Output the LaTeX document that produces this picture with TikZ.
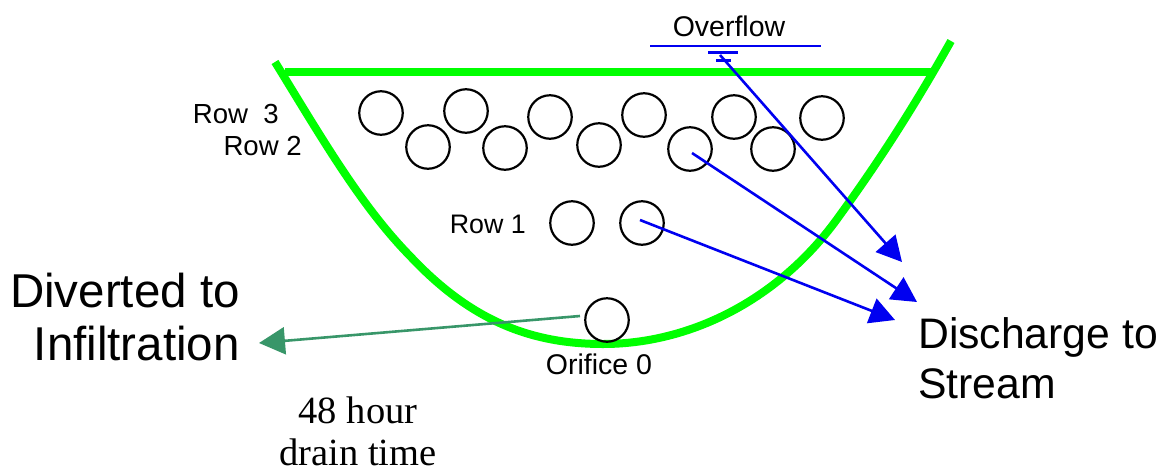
\documentclass[tikz,border=0pt]{standalone}
\usepackage{fontspec}
\setmainfont{Liberation Sans}
\newfontfamily\timesf{Liberation Serif}
\usetikzlibrary{arrows.meta}
\definecolor{basin}{RGB}{0,255,0}
\definecolor{divert}{RGB}{56,150,105}
\definecolor{flow}{RGB}{0,0,240}
\tikzset{
  x=1pt,y=-1pt,
  orifice/.style={circle,draw=black,line width=2.2pt,fill=none,minimum size=43.5pt,inner sep=0pt},
  basinline/.style={draw=basin,line width=8pt},
  discharge/.style={draw=flow,line width=2.6pt,-{Triangle[length=25pt,width=26pt,fill=flow]}},
  infil/.style={draw=divert,line width=2.6pt,-{Triangle[length=26pt,width=27pt,fill=divert]}},
  wl/.style={draw=flow,line width=2.2pt},
  small/.style={font=\fontsize{27.6}{30}\selectfont,inner sep=0pt},
  smaller/.style={font=\fontsize{26.8}{30}\selectfont,inner sep=0pt},
  ovl/.style={font=\fontsize{28.5}{32}\selectfont,inner sep=0pt},
  big/.style={font=\fontsize{47.5}{55}\selectfont,inner sep=0pt},
  mid/.style={font=\fontsize{42.7}{50}\selectfont,inner sep=0pt},
  serif/.style={font=\timesf\fontsize{38.5}{44}\selectfont,inner sep=0pt},
}
\begin{document}
\begin{tikzpicture}
\useasboundingbox (0,0) rectangle (1170,472);
% basin
\draw[basinline] (275,62) .. controls (320,135) and (360,205) .. (410,256)
  .. controls (470,320) and (530,344) .. (603,344)
  .. controls (690,344) and (780,300) .. (840,215)
  .. controls (880,160) and (915,105) .. (951,41);
\draw[basinline] (285,72) -- (931,72);
% orifices
\node[orifice] (a1) at (381,113) {};
\node[orifice] (a2) at (466,111) {};
\node[orifice] (a3) at (550,117) {};
\node[orifice] (a4) at (644,115) {};
\node[orifice] (a5) at (734,117) {};
\node[orifice] (a6) at (822,118) {};
\node[orifice] (b1) at (428,147) {};
\node[orifice] (b2) at (505,148) {};
\node[orifice] (b3) at (599,145) {};
\node[orifice] (b4) at (690,149) {};
\node[orifice] (b5) at (773,149) {};
\node[orifice] (c1) at (572,223) {};
\node[orifice] (c2) at (642,223) {};
\node[orifice] (d0) at (607,320) {};
% water level
\coordinate (wlL) at (650,46);
\coordinate (wlR) at (821,46);
\coordinate (tk1L) at (708,52.5);
\coordinate (tk1R) at (738,52.5);
\coordinate (tk2L) at (716,60.5);
\coordinate (tk2R) at (731,60.5);
\draw[wl] (wlL) -- (wlR);
\draw[wl] (tk1L) -- (tk1R);
\draw[wl] (tk2L) -- (tk2R);
% labels
\node[ovl] (overflow) at (729,26) {Overflow};
\node[small,anchor=east] (row3) at (279,114) {Row\ \ 3};
\node[small,anchor=east] (row2) at (302,146) {Row 2};
\node[smaller,anchor=east] (row1) at (526,224) {Row 1};
\node[ovl] (orif) at (599,364) {Orifice 0};
\node[big,anchor=east] (div1) at (240,291) {Diverted to};
\node[big,anchor=east] (div2) at (240,344) {Infiltration};
\node[mid,anchor=west] (dis1) at (918,337) {Discharge to};
\node[mid,anchor=west] (dis2) at (918,384) {Stream};
\node[serif] (t1) at (358,410) {48 hour};
\node[serif] (t2) at (358,452) {drain time};
% connectors
\coordinate (ovs) at (720,55);
\coordinate (ove) at (902,262);
\coordinate (rs) at (692,153);
\coordinate (re) at (917,302);
\coordinate (qs) at (640,220);
\coordinate (qe) at (895,320);
\coordinate (gs) at (580,316);
\coordinate (ge) at (259,343);
\draw[discharge] (ovs) -- (ove);
\draw[discharge] (rs) -- (re);
\draw[discharge] (qs) -- (qe);
\draw[infil] (gs) -- (ge);
\end{tikzpicture}
\end{document}
